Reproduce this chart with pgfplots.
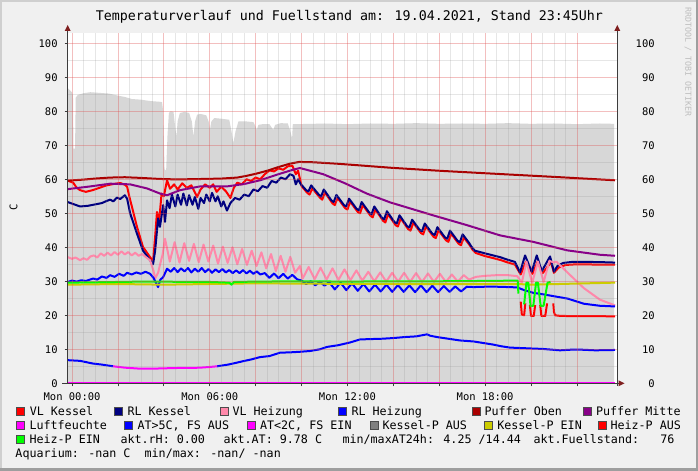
\documentclass[border=0pt]{standalone}
\usepackage{pgfplots}
\pgfplotsset{compat=1.18}
\usepackage{fontspec}
\setmainfont{DejaVu Sans Mono}

\definecolor{bgc}{RGB}{240,240,240}
\definecolor{shadea}{RGB}{207,207,207}
\definecolor{shadeb}{RGB}{158,158,158}
\definecolor{fuell}{RGB}{215,215,215}
\definecolor{gridc}{RGB}{143,143,143}
\definecolor{mgridc}{RGB}{222,80,80}
\definecolor{axisc}{RGB}{60,60,60}
\definecolor{arrowc}{RGB}{127,31,31}
\definecolor{vlk}{RGB}{255,0,0}
\definecolor{rlk}{RGB}{0,0,128}
\definecolor{vlh}{RGB}{255,136,170}
\definecolor{rlh}{RGB}{0,0,255}
\definecolor{poben}{RGB}{170,0,0}
\definecolor{pmitte}{RGB}{136,0,136}
\definecolor{luft}{RGB}{255,0,255}
\definecolor{kpaus}{RGB}{128,128,128}
\definecolor{kpein}{RGB}{204,204,0}
\definecolor{hpaus}{RGB}{255,0,0}
\definecolor{hpein}{RGB}{0,255,0}
\definecolor{wmark}{RGB}{190,190,190}

\newcommand{\tickfont}{\fontsize{10.5bp}{12bp}\selectfont}
\newcommand{\legfont}{\fontsize{11.7bp}{14bp}\selectfont}

\begin{document}
\begin{tikzpicture}
% canvas and frame
\fill[bgc] (0,0) rectangle (698bp,471bp);
\fill[shadea] (0,0) rectangle (2bp,471bp);
\fill[shadea] (0,469bp) rectangle (698bp,471bp);
\fill[shadeb] (695.5bp,0) rectangle (698bp,471bp);
\fill[shadeb] (0,0) rectangle (698bp,2.5bp);

\begin{axis}[
  name=main,
  at={(67.7bp,87.7bp)}, anchor=south west,
  scale only axis, width=549.6bp, height=350.6bp,
  xmin=-0.19, xmax=23.76, ymin=0, ymax=103.1,
  axis background/.style={fill=white},
  axis line style={draw=none},
  xtick={0,2,...,22},
  xticklabels={Mon 00:00,,,Mon 06:00,,,Mon 12:00,,,Mon 18:00,,},
  minor x tick num=3,
  ytick={0,10,...,100},
  minor y tick num=1,
  xtick pos=left, ytick pos=left,
  grid=both,
  major grid style={draw=mgridc, draw opacity=0.36, line width=0.8bp},
  minor grid style={draw=gridc, draw opacity=0.22, line width=0.8bp},
  tick align=outside,
  major tick length=3bp, minor tick length=0bp,
  tick style={draw=axisc, line width=0.8bp},
  ticklabel style={font=\tickfont, inner sep=0pt},
  xticklabel style={anchor=north, yshift=-6.7bp},
  yticklabel style={anchor=east, xshift=-6.9bp},
  /pgf/number format/assume math mode=true,
  axis on top, clip=false,
  unbounded coords=jump,
  every axis plot/.append style={line width=2bp, line join=round},
]
% Fuellstand (area)
\addplot[fill=fuell, draw=none, line width=0pt] coordinates {
(-0.19,86.8)(-0.1,86.2)(0.0,85.5)(0.04,84.5)(0.06,69)(0.13,69)(0.16,84)(0.25,84.8)
(0.5,85.3)(0.8,85.6)(1.2,85.4)(1.6,85.2)(2.0,84.6)(2.3,84.2)(2.6,83.6)(3.0,83.4)
(3.4,83.0)(3.8,82.8)(3.92,82.7)(3.97,80)(4.03,63)(4.1,62.5)(4.16,73)(4.22,79.5)
(4.3,80)(4.42,79.8)(4.5,75)(4.55,72.5)(4.6,77)(4.7,79.5)(4.9,79.8)(5.1,79.5)
(5.22,77)(5.29,72.5)(5.36,77)(5.45,79)(5.6,79.2)(5.85,78.8)(5.95,77)(6.01,74.5)
(6.07,77)(6.2,78)(6.5,77.8)(6.85,77.5)(6.95,74)(7.03,70.6)(7.12,74)(7.25,77)
(7.6,77)(7.9,76.8)(8.0,75.5)(8.05,74.5)(8.12,76)(8.3,76.2)(8.6,76.2)(8.72,75)
(8.77,74.5)(8.85,76)(9.1,76.5)(9.4,76.4)(9.47,75)(9.5,74.5)(9.55,73)(9.59,72)
(9.62,76.2)(10.5,76.3)(11,76.4)(12,76.2)(13,76.4)(14,76.3)(15,76.5)(16,76.3)
(17,76.4)(18,76.3)(19,76.5)(20,76.3)(21,76.4)(22,76.2)(23,76.4)(23.62,76.3)
} \closedcycle;

% VL Kessel
\addplot[vlk] coordinates {
(-0.19,59.6)(0.05,59.0)(0.2,57.5)(0.35,56.8)(0.6,56.3)(0.9,56.8)(1.2,57.5)(1.5,58.2)
(1.8,58.6)(2.1,58.9)(2.3,58.4)(2.4,57.8)(2.5,54.8)(2.83,46)(3.09,40.1)(3.4,37.1)
(3.53,36)(3.62,43)(3.7,50.4)(3.8,48)(3.9,55.8)(4.0,55)(4.14,59.7)(4.27,57.2)
(4.45,58.5)(4.6,57)(4.8,58.8)(5.0,57.5)(5.2,58.2)(5.45,54.8)(5.6,57)(5.8,58.5)
(6.0,57.5)(6.15,58.5)(6.3,56.3)(6.5,57.8)(6.7,56.5)(6.9,54.5)(7.05,57.5)(7.2,59)
(7.4,58.5)(7.6,60)(7.8,59.5)(8.0,60.5)(8.2,60)(8.4,61.5)(8.6,62.6)(8.8,62.3)
(9.0,63.2)(9.2,62.8)(9.4,63.8)(9.6,64.0)(9.75,61.5)(9.85,62.5)(10.0,58.0)
(10.25,56.0)(10.35,55.5)(10.47,57.3)(10.8,54.6)(10.9,54.0)(11.02,56.1)(11.35,52.9)
(11.45,52.4)(11.57,54.5)(11.9,51.5)(12.0,51.1)(12.12,53.4)(12.45,50.4)(12.55,50.0)
(12.67,52.4)(13.0,49.3)(13.1,48.8)(13.22,51.1)(13.55,47.8)(13.65,47.3)(13.77,49.7)
(14.1,46.5)(14.2,46.1)(14.32,48.5)(14.65,45.3)(14.75,44.9)(14.87,47.2)(15.2,44.2)
(15.3,43.8)(15.42,46.1)(15.75,43.1)(15.85,42.7)(15.97,45.0)(16.3,42.0)(16.4,41.6)
(16.52,44.0)(16.85,41.0)(16.95,40.6)(17.07,42.9)(17.35,40.4)(17.45,39.3)(17.6,38.3)
(18.0,37.4)(18.65,36.3)(19.0,35.5)(19.3,34.9)(19.55,32.0)(19.78,35.8)(20.07,32.2)
(20.29,35.8)(20.51,32.4)(20.87,35.6)(21.0,32.5)(21.2,34.0)(21.5,34.8)(22.0,35.0)
(23.0,34.9)(23.66,34.9)
};
% RL Kessel
\addplot[rlk] coordinates {
(-0.19,53.3)(0.1,52.6)(0.35,52.0)(0.7,52.2)(1.0,52.6)(1.3,53.0)(1.5,53.6)(1.66,54.0)
(1.8,53.5)(1.95,54.6)(2.1,54.2)(2.3,55.3)(2.4,54.3)(2.53,50)(2.83,44)(3.09,39)
(3.4,36.2)(3.53,35)(3.62,39)(3.75,48.5)(3.83,46)(3.97,52.4)(4.05,47.5)(4.14,53.8)
(4.25,51.5)(4.35,55.5)(4.5,52)(4.6,55.5)(4.75,52.5)(4.85,55.8)(5.0,52.3)(5.1,55.3)
(5.25,52.5)(5.35,54.8)(5.5,51.3)(5.6,54.5)(5.75,53)(5.85,55.5)(6.0,53.5)(6.1,56)
(6.25,53.5)(6.35,55)(6.5,52)(6.6,53.5)(6.75,50.8)(6.9,53)(7.1,54.5)(7.3,54)
(7.5,55.5)(7.7,55)(7.9,57)(8.1,56.5)(8.3,58)(8.5,57.5)(8.7,59.5)(8.9,59)
(9.1,60.5)(9.3,60)(9.5,61.5)(9.65,61.0)(9.75,58.5)(9.85,60)(9.95,58.7)
(10.2,56.8)(10.3,56.4)(10.42,58.2)(10.75,55.5)(10.85,54.9)(10.97,57.0)(11.3,53.8)
(11.4,53.3)(11.52,55.4)(11.85,52.4)(11.95,52.0)(12.07,54.3)(12.4,51.3)(12.5,50.9)
(12.62,53.3)(12.95,50.2)(13.05,49.7)(13.17,52.0)(13.5,48.7)(13.6,48.2)(13.72,50.6)
(14.05,47.4)(14.15,47.0)(14.27,49.4)(14.6,46.2)(14.7,45.8)(14.82,48.1)(15.15,45.1)
(15.25,44.7)(15.37,47.0)(15.7,44.0)(15.8,43.6)(15.92,45.9)(16.25,42.9)(16.35,42.5)
(16.47,44.9)(16.8,41.9)(16.9,41.5)(17.02,43.8)(17.3,41.3)(17.4,40.2)(17.55,39.0)
(18.0,38.2)(18.65,37.1)(19.0,36.3)(19.3,35.7)(19.52,32.6)(19.74,37.6)(20.03,32.8)
(20.25,37.6)(20.47,33.0)(20.83,37.3)(21.0,32.8)(21.15,34.5)(21.4,35.4)(21.8,35.7)
(22.5,35.7)(23.2,35.6)(23.66,35.5)
};
% VL Heizung
\addplot[vlh] coordinates {
(-0.19,37.1)(0.0,36.6)(0.15,37.0)(0.35,36.2)(0.5,36.8)(0.65,36.3)(0.8,37.3)(0.95,37.6)
(1.1,37.0)(1.25,38.2)(1.4,37.5)(1.55,38.4)(1.7,37.6)(1.85,38.6)(2.0,37.8)(2.15,38.8)
(2.3,37.9)(2.45,38.6)(2.6,37.6)(2.75,38.4)(2.9,37.5)(3.05,38.0)(3.2,37.2)(3.4,36.2)
(3.55,33.0)(3.62,30.8)(3.75,32.5)(3.83,34.8)(3.95,38.0)(4.05,42.5)(4.26,35.8)
(4.47,41.5)(4.68,35.5)(4.89,41.2)(5.10,36.0)(5.31,41.0)(5.52,35.6)(5.73,40.8)
(5.94,35.8)(6.15,40.5)(6.36,35.2)(6.57,40.2)(6.78,35.4)(6.99,40.0)(7.20,35.0)
(7.41,39.5)(7.62,34.8)(7.83,39.0)(8.04,34.5)(8.25,38.5)(8.46,33.8)(8.67,38.0)
(8.88,33.0)(9.09,37.5)(9.30,32.8)(9.51,37.2)(9.72,32.5)(9.93,34.5)(10.05,30.8)
(10.31,34.2)(10.57,30.6)(10.83,34.0)(11.09,30.5)(11.35,33.8)(11.61,30.4)(11.87,33.5)
(12.13,30.3)(12.39,33.2)(12.65,30.2)(12.91,32.8)(13.17,30.0)(13.43,32.6)(13.69,29.9)
(13.95,32.5)(14.21,29.9)(14.47,32.5)(14.73,29.8)(14.99,32.4)(15.25,29.8)(15.51,32.3)
(15.77,29.8)(16.03,32.2)(16.29,29.8)(16.55,32.0)(16.81,29.9)(17.07,31.8)(17.3,30.5)
(17.6,31.3)(18.0,31.6)(18.5,31.8)(19.0,31.8)(19.4,31.5)(19.6,29.6)(19.8,35.8)
(20.05,29.5)(20.3,35.8)(20.55,29.8)(20.8,36.0)(21.0,35.5)(21.1,35.8)(21.6,32.5)
(22.3,28.0)(23.0,24.6)(23.66,22.9)
};
% RL Heizung
\addplot[rlh] coordinates {
(-0.19,29.8)(0.0,30.2)(0.2,29.9)(0.4,30.3)(0.6,30.1)(0.92,30.8)(1.1,30.5)(1.3,31.4)
(1.5,31.0)(1.66,31.8)(1.85,31.3)(2.05,32.2)(2.25,31.6)(2.4,32.5)(2.6,32.0)(2.8,32.6)
(3.0,32.2)(3.2,32.8)(3.4,32.2)(3.55,31.0)(3.62,30.0)(3.75,28.3)(3.85,30.5)(3.97,31.2)
(4.14,33.7)(4.3,32.8)(4.45,33.9)(4.6,32.7)(4.75,33.8)(4.9,32.9)(5.05,33.9)(5.2,32.6)
(5.35,33.7)(5.5,32.8)(5.65,33.9)(5.8,32.7)(5.95,33.6)(6.1,32.5)(6.25,33.5)(6.4,32.7)
(6.55,33.6)(6.7,32.6)(6.85,33.3)(7.0,32.4)(7.15,33.2)(7.3,32.4)(7.45,33.3)(7.6,32.3)
(7.75,33.1)(7.9,32.2)(8.05,32.9)(8.2,32.0)(8.4,32.4)(8.6,31.0)(8.8,32.3)(9.0,30.9)
(9.2,32.2)(9.4,30.8)(9.6,31.9)(9.8,30.6)(10.0,30.2)(10.2,29.2)(10.4,30.0)(10.6,28.8)
(10.8,29.9)(11.0,28.7)(11.2,29.8)(11.45,27.6)(11.7,29.6)(11.95,27.4)(12.2,29.4)
(12.45,27.2)(12.7,29.2)(12.95,27.0)(13.2,29.0)(13.45,27.0)(13.7,29.0)(13.95,26.9)
(14.2,28.9)(14.45,26.9)(14.7,28.8)(14.95,26.8)(15.2,28.8)(15.45,26.8)(15.7,28.7)
(15.95,26.8)(16.2,28.6)(16.45,26.9)(16.7,28.5)(16.95,27.0)(17.2,28.4)(17.5,28.3)
(18.0,28.4)(18.5,28.4)(19.0,28.3)(19.4,28.2)(19.7,27.4)(20.1,26.6)(20.5,26.2)
(21.0,25.6)(21.6,24.9)(22.3,23.4)(23.0,22.8)(23.66,22.6)
};
% Puffer Oben
\addplot[poben] coordinates {
(-0.19,59.6)(0.5,59.9)(1.0,60.2)(1.66,60.5)(2.3,60.6)(3.0,60.4)(3.8,60.1)(4.3,60.0)
(5.0,60.0)(5.8,60.1)(6.5,60.2)(7.2,60.5)(7.6,61.0)(8.0,61.6)(8.5,62.5)(9.0,63.6)
(9.5,64.6)(9.9,65.1)(10.5,65.0)(11.5,64.6)(12.5,64.1)(13.86,63.4)(16.0,62.5)
(18.2,61.7)(21.0,60.7)(23.66,59.7)
};
% Puffer Mitte
\addplot[pmitte] coordinates {
(-0.19,57.1)(0.8,57.9)(1.66,58.7)(2.53,58.5)(3.27,57.3)(3.83,55.8)(4.14,55.3)
(4.71,56.8)(5.58,57.9)(6.75,57.9)(7.5,58.6)(8.19,59.7)(9.0,61.5)(9.63,62.8)
(9.93,63.3)(10.94,61.5)(11.9,58.8)(12.84,55.8)(13.86,53.2)(15.73,49.4)(17.21,46.5)
(18.65,43.5)(20.09,41.6)(21.57,39.1)(23.0,37.8)(23.66,37.5)
};
% Luftfeuchte
\addplot[luft] coordinates {(-0.19,0)(23.66,0)};
% AT > 5C
\addplot[rlh] coordinates {
(-0.19,6.8)(0.35,6.6)(0.7,6.1)(0.92,5.8)(1.3,5.5)(1.79,5.0)(nan,nan)
(6.32,5.0)(6.8,5.5)(7.2,6.1)(7.45,6.5)(7.8,7.0)(8.19,7.7)(8.6,8.0)(9.06,9.0)
(9.5,9.1)(10.0,9.3)(10.37,9.5)(10.8,10.0)(11.11,10.7)(11.6,11.2)(12.11,12.0)
(12.55,12.9)(13.0,13.0)(13.5,13.1)(13.99,13.3)(14.5,13.6)(15.0,13.8)(15.47,14.4)
(15.6,14.0)(15.9,13.6)(16.4,13.1)(16.9,12.6)(17.5,12.3)(18.34,11.4)(18.7,10.9)
(19.08,10.5)(19.8,10.3)(20.52,10.1)(21.26,9.7)(21.8,9.9)(22.14,9.9)(22.8,9.7)
(23.66,9.8)
};
% AT < 2C
\addplot[luft] coordinates {
(1.79,5.0)(2.3,4.6)(2.96,4.3)(3.5,4.3)(4.0,4.4)(4.58,4.5)(5.1,4.5)(5.58,4.6)
(6.0,4.8)(6.32,5.0)
};
% Kessel-P EIN
\addplot[kpein] coordinates {
(-0.19,29.0)(2,29.2)(4,29.0)(6,29.2)(8,29.4)(10,29.3)(14,29.2)(19.4,29.2)
(20,29.0)(23.66,29.6)
};
% Heiz-P AUS
\addplot[hpaus] coordinates {
(19.55,24.0)(19.6,20.2)(19.7,20.0)(19.75,23.5)(nan,nan)
(19.95,23.0)(20.0,19.8)(20.12,19.8)(20.18,23.0)(nan,nan)
(20.4,23.0)(20.45,19.8)(20.62,19.8)(20.7,23.5)(nan,nan)
(20.97,23.5)(21.0,21.0)(21.05,20.0)(21.3,19.8)(23.66,19.7)
};
% Heiz-P EIN
\addplot[hpein] coordinates {
(-0.19,29.6)(1,29.7)(2,29.8)(3,29.9)(4,29.9)(5,29.8)(6,29.8)(6.85,29.6)(6.95,29.0)
(7.05,29.8)(8,29.9)(10,30.0)(12,29.9)(14,30.0)(16,30.0)(18,30.1)(19.42,30.2)
(19.45,26.4)(nan,nan)
(19.7,23.2)(19.8,29.6)(19.88,29.6)(19.98,22.7)(20.1,22.8)(20.22,29.6)(20.3,29.6)
(20.42,22.8)(20.55,22.8)(20.72,29.6)(20.85,29.8)
};
\end{axis}

% right-hand tick labels
\begin{axis}[
  at={(67.7bp,87.7bp)}, anchor=south west,
  scale only axis, width=549.6bp, height=350.6bp,
  xmin=-0.19, xmax=23.76, ymin=0, ymax=103.1,
  hide x axis, axis y line*=right, axis line style={draw=none},
  ytick={0,10,...,100}, major tick length=0pt,
  yticklabel style={font=\tickfont, inner sep=0pt, anchor=east, xshift=37.6bp},
  /pgf/number format/assume math mode=true,
]
\addplot[draw=none] coordinates {(0,0)};
\end{axis}

% axis lines and arrows
\draw[axisc, line width=1bp] (62bp,87.7bp) -- (619bp,87.7bp);
\draw[axisc, line width=1bp] (67.7bp,87.7bp) -- (67.7bp,441bp);
\draw[axisc, line width=1bp] (617.3bp,85bp) -- (617.3bp,441bp);
\fill[arrowc] (64.7bp,440bp) -- (70.7bp,440bp) -- (67.7bp,446bp) -- cycle;
\fill[arrowc] (614.3bp,440bp) -- (620.3bp,440bp) -- (617.3bp,446bp) -- cycle;
\fill[arrowc] (618.5bp,84.7bp) -- (618.5bp,90.7bp) -- (624.5bp,87.7bp) -- cycle;

% title, unit, watermark
\node[anchor=base, inner sep=0pt, font=\fontsize{13.3bp}{16bp}\selectfont]
  at (349.4bp,450bp) {Temperaturverlauf und Fuellstand am: 19.04.2021, Stand 23:45Uhr};
\node[rotate=90, inner sep=0pt, font=\tickfont] at (13.6bp,263.5bp) {C};
\node[rotate=-90, inner sep=0pt, text=wmark, font=\fontsize{8.3bp}{10bp}\selectfont]
  at (688bp,409bp) {RRDTOOL / TOBI OETIKER};

% legend
\begin{scope}[every node/.style={anchor=base west, inner sep=0pt, font=\legfont}]
\def\sq#1#2#3{\filldraw[fill=#1, draw=black!70, line width=0.6bp] (#2bp,#3bp-4bp) rectangle ++(8bp,8bp);}
\sq{vlk}{16}{60}    \node at (29.6bp,55.7bp) {VL Kessel};
\sq{rlk}{114}{60}   \node at (127.3bp,55.7bp) {RL Kessel};
\sq{vlh}{220}{60}   \node at (232.3bp,55.7bp) {VL Heizung};
\sq{rlh}{338}{60}   \node at (351.3bp,55.7bp) {RL Heizung};
\sq{poben}{472}{60} \node at (484.3bp,55.7bp) {Puffer Oben};
\sq{pmitte}{583}{60} \node at (595.9bp,55.7bp) {Puffer Mitte};
\sq{luft}{16}{46}   \node at (29.3bp,41.7bp) {Luftfeuchte};
\sq{rlh}{124.7}{46} \node at (137.3bp,41.7bp) {AT>5C, FS AUS};
\sq{luft}{247.5}{46} \node at (259.8bp,41.7bp) {AT<2C, FS EIN};
\sq{kpaus}{370.4}{46} \node at (382.3bp,41.7bp) {Kessel-P AUS};
\sq{kpein}{484}{46} \node at (497.1bp,41.7bp) {Kessel-P EIN};
\sq{hpaus}{598}{46} \node at (610.3bp,41.7bp) {Heiz-P AUS};
\sq{hpein}{16}{32}  \node at (29.3bp,27.7bp) {Heiz-P EIN};
\node at (120.3bp,27.7bp) {akt.rH: 0.00};
\node at (223.3bp,27.7bp) {akt.AT: 9.78 C};
\node at (342.3bp,27.7bp) {min/maxAT24h: 4.25 /14.44};
\node at (533.3bp,27.7bp) {akt.Fuellstand:~~~76};
\node at (15.3bp,13.7bp) {Aquarium: -nan C~~min/max: -nan/ -nan};
\end{scope}
\end{tikzpicture}
\end{document}
